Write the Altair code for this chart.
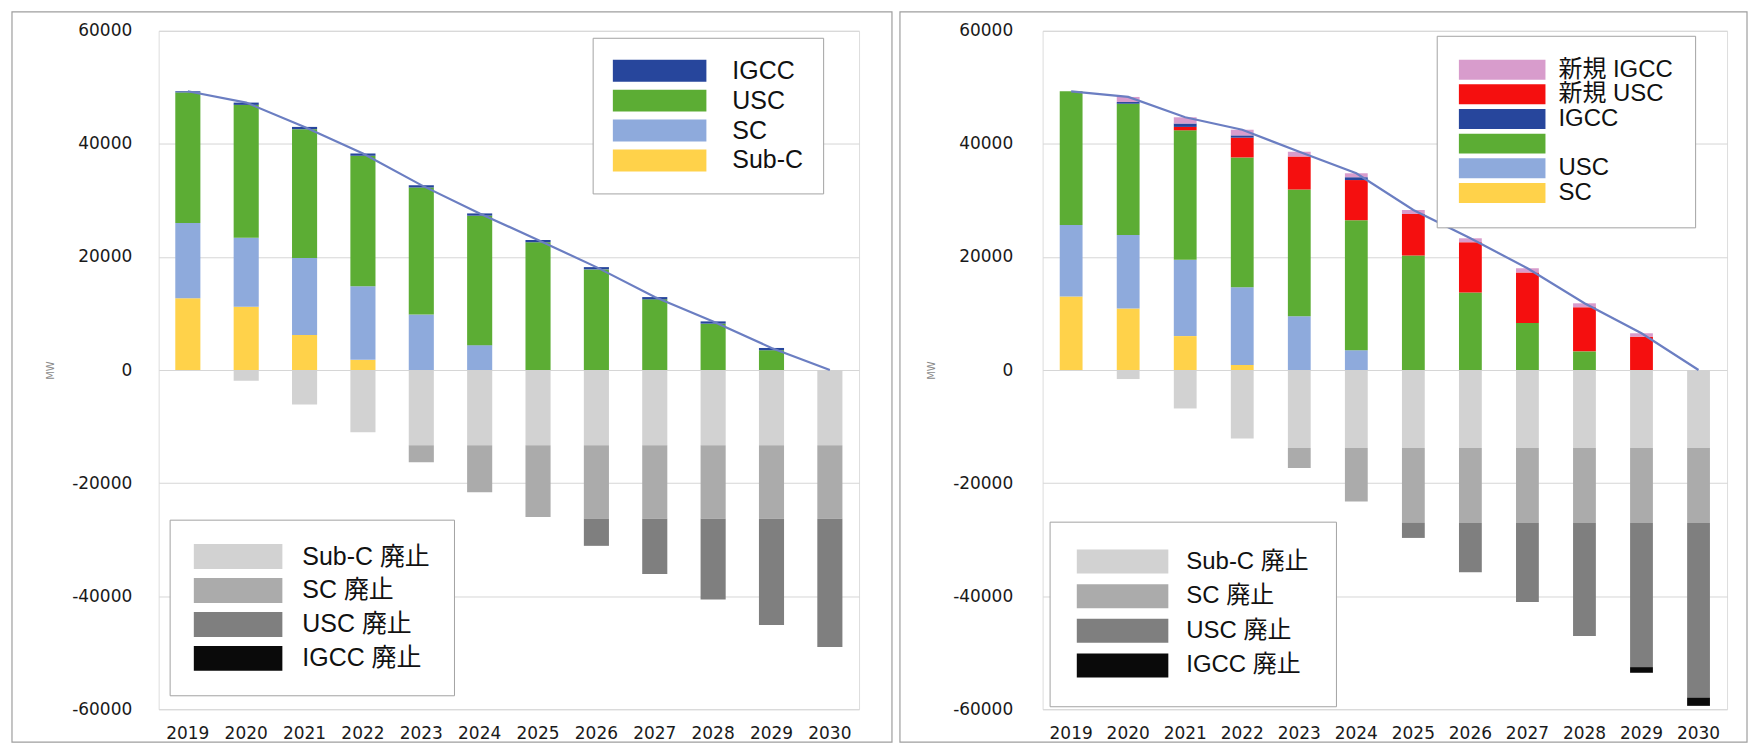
import altair as alt
import pandas as pd

YEARS = ["2019", "2020", "2021", "2022", "2023", "2024", "2025", "2026", "2027", "2028", "2029", "2030"]

# ---- Left chart (existing plants) ----
L_SUBC = [12700, 11200, 6200, 1800, 0, 0, 0, 0, 0, 0, 0, 0]
L_SC = [13300, 12200, 13600, 13000, 9800, 4400, 0, 0, 0, 0, 0, 0]
L_USC = [23100, 23500, 22800, 23100, 22500, 22900, 22600, 17800, 12500, 8200, 3500, 0]
L_IGCC = [200, 400, 400, 400, 400, 400, 400, 400, 400, 400, 400, 0]
L_TOTAL = [49300, 47300, 43000, 38300, 32700, 27700, 23000, 18200, 12900, 8600, 3900, 0]
L_SUBC_RET = [0, -1900, -6100, -11000, -13300, -13300, -13300, -13300, -13300, -13300, -13300, -13300]
L_SC_RET = [0, 0, 0, 0, -3000, -8300, -12700, -13000, -13000, -13000, -13000, -13000]
L_USC_RET = [0, 0, 0, 0, 0, 0, 0, -4800, -9800, -14300, -18800, -22700]
L_IGCC_RET = [0, 0, 0, 0, 0, 0, 0, 0, 0, 0, 0, 0]

# ---- Right chart (with new plants) ----
R_SUBC = [13000, 10900, 6000, 900, 0, 0, 0, 0, 0, 0, 0, 0]
R_SC = [12650, 13000, 13500, 13750, 9500, 3500, 0, 0, 0, 0, 0, 0]
R_USC = [23650, 23200, 22900, 22950, 22450, 23000, 20250, 13700, 8300, 3300, 0, 0]
R_NEW_USC = [0, 0, 600, 3500, 5800, 7100, 7350, 8900, 8950, 7800, 5900, 0]
R_IGCC = [0, 300, 600, 400, 0, 500, 0, 0, 0, 0, 0, 0]
R_NEW_IGCC = [0, 900, 1100, 1000, 850, 700, 700, 700, 750, 700, 600, 0]
R_TOTAL = [49300, 48300, 44700, 42500, 38600, 34800, 28300, 23300, 18000, 11800, 6500, 0]
R_SUBC_RET = [0, -1600, -6800, -12100, -13800, -13800, -13800, -13800, -13800, -13800, -13800, -13800]
R_SC_RET = [0, 0, 0, 0, -3550, -9450, -13250, -13250, -13250, -13250, -13250, -13250]
R_USC_RET = [0, 0, 0, 0, 0, 0, -2650, -8700, -14000, -20000, -25500, -30900]
R_IGCC_RET = [0, 0, 0, 0, 0, 0, 0, 0, 0, 0, -1000, -1450]

# legend text as printed in the reference's right-hand legend (row by row)
R_LEGEND_TEXT = {"新規 IGCC": "新規 IGCC", "新規 USC": "新規 USC", "IGCC": "IGCC",
                 "USC": "", "SC": "USC", "Sub-C": "SC"}

Y_TICKS = [-60000, -40000, -20000, 0, 20000, 40000, 60000]

C_IGCC = "#27469c"
C_USC = "#5cad34"
C_SC = "#8eaadc"
C_SUBC = "#ffd24a"
C_NEW_IGCC = "#d89ccc"
C_NEW_USC = "#f50f0f"
C_SUBC_RET = "#d2d2d2"
C_SC_RET = "#ababab"
C_USC_RET = "#7f7f7f"
C_IGCC_RET = "#0a0a0a"

LEG_FONT = "Liberation Sans, Noto Sans CJK JP"
AX_FONT = "DejaVu Sans"


def long_df(series, orders):
    rows = []
    for (name, vals), o in zip(series, orders):
        for y, v in zip(YEARS, vals):
            rows.append({"year": y, "series": name, "value": v, "ord": o})
    return pd.DataFrame(rows)


def sym(w, h):
    r = h / w
    return f"M-1,-{r:.3f}H1V{r:.3f}H-1Z", w * w


def make_panel(pos_series, pos_order, pos_domain, pos_range, pos_leg,
               neg_series, neg_domain, neg_range, neg_leg,
               total, pad_in, width, frame, lab_pad):
    xenc = alt.X("year:N", sort=YEARS,
                 scale=alt.Scale(domain=YEARS, paddingInner=pad_in, paddingOuter=pad_in / 2),
                 axis=alt.Axis(title=None, labelAngle=0, ticks=False, domain=False, grid=False,
                               labelFont=AX_FONT, labelFontSize=17, labelColor="#1a1a1a",
                               labelPadding=16))
    yaxis = alt.Axis(values=Y_TICKS, labelExpr="'' + datum.value", title="MW", titleFont=AX_FONT,
                     titleFontSize=10, titleFontWeight="normal", titleColor="#8a8a8a", titlePadding=16,
                     labelFont=AX_FONT, labelFontSize=17, labelColor="#1a1a1a",
                     labelPadding=lab_pad, ticks=False, tickSize=0, domain=False,
                     grid=True, gridColor="#d6d6d6", gridWidth=1)
    yscale = alt.Scale(domain=[-60000, 60000], nice=False, zero=False)

    pos_df = long_df(pos_series, pos_order)
    neg_df = long_df(neg_series, list(range(len(neg_series))))
    line_df = pd.DataFrame({"year": YEARS, "value": total})

    def legend(cfg):
        path, size = sym(cfg["w"], cfg["h"])
        kw = dict(orient="none", legendX=cfg["x"], legendY=cfg["y"], title=None,
                  symbolType=path, symbolSize=size, symbolStrokeWidth=0, symbolOpacity=1,
                  labelFont=LEG_FONT, labelFontSize=cfg["fs"], labelColor="#111111",
                  labelOffset=cfg["lo"], rowPadding=cfg["rp"], padding=cfg["pad"],
                  clipHeight=cfg["ch"],
                  fillColor="white", strokeColor="#a3a3a3", labelLimit=300)
        if "expr" in cfg:
            kw["labelExpr"] = cfg["expr"]
        return alt.Legend(**kw)

    pos = alt.Chart(pos_df).mark_bar().encode(
        x=xenc,
        y=alt.Y("value:Q", scale=yscale, axis=yaxis, stack="zero"),
        color=alt.Color("series:N", scale=alt.Scale(domain=pos_domain, range=pos_range),
                        legend=legend(pos_leg)),
        order=alt.Order("ord:Q", sort="ascending"),
    )
    neg = alt.Chart(neg_df).mark_bar().encode(
        x=xenc,
        y=alt.Y("value:Q", scale=yscale, axis=yaxis, stack="zero"),
        color=alt.Color("series:N", scale=alt.Scale(domain=neg_domain, range=neg_range),
                        legend=legend(neg_leg)),
        order=alt.Order("ord:Q", sort="ascending"),
    )
    line = alt.Chart(line_df).mark_line(color="#6b7ec2", strokeWidth=2.2).encode(
        x=xenc, y=alt.Y("value:Q", scale=yscale, axis=yaxis))
    box = alt.Chart(pd.DataFrame({"f": [0]})).mark_rect(
        fill="white", fillOpacity=0, stroke="#9e9e9e", strokeWidth=1.2).encode(
        x=alt.value(frame[0]), x2=alt.value(frame[1]),
        y=alt.value(frame[2]), y2=alt.value(frame[3]))

    return alt.layer(box, pos, neg, line).resolve_scale(color="independent").properties(
        width=width, height=680)


r_expr = " : ".join(f"datum.label == '{k}' ? '{v}'" for k, v in R_LEGEND_TEXT.items()) + " : datum.label"

left = make_panel(
    [("Sub-C", L_SUBC), ("SC", L_SC), ("USC", L_USC), ("IGCC", L_IGCC)], [0, 1, 2, 3],
    ["IGCC", "USC", "SC", "Sub-C"], [C_IGCC, C_USC, C_SC, C_SUBC],
    dict(x=435, y=7, w=94, h=22, fs=25, lo=26, rp=4, pad=20, ch=26),
    [("Sub-C 廃止", L_SUBC_RET), ("SC 廃止", L_SC_RET), ("USC 廃止", L_USC_RET), ("IGCC 廃止", L_IGCC_RET)],
    ["Sub-C 廃止", "SC 廃止", "USC 廃止", "IGCC 廃止"], [C_SUBC_RET, C_SC_RET, C_USC_RET, C_IGCC_RET],
    dict(x=11, y=490, w=89, h=25, fs=25, lo=20, rp=8, pad=24, ch=26),
    L_TOTAL, 0.57, 702, (-147, 735, -19, 713), 27)

right = make_panel(
    [("Sub-C", R_SUBC), ("SC", R_SC), ("USC", R_USC), ("新規 USC", R_NEW_USC),
     ("IGCC", R_IGCC), ("新規 IGCC", R_NEW_IGCC)], [0, 1, 2, 3, 4, 5],
    ["新規 IGCC", "新規 USC", "IGCC", "USC", "SC", "Sub-C"],
    [C_NEW_IGCC, C_NEW_USC, C_IGCC, C_USC, C_SC, C_SUBC],
    dict(x=395, y=5, w=87, h=20, fs=24, lo=13, rp=0.7, pad=22, ch=24, expr=r_expr),
    [("Sub-C 廃止", R_SUBC_RET), ("SC 廃止", R_SC_RET), ("USC 廃止", R_USC_RET), ("IGCC 廃止", R_IGCC_RET)],
    ["Sub-C 廃止", "SC 廃止", "USC 廃止", "IGCC 廃止"], [C_SUBC_RET, C_SC_RET, C_USC_RET, C_IGCC_RET],
    dict(x=7, y=492, w=92, h=24, fs=24, lo=18, rp=8.7, pad=27, ch=26),
    R_TOTAL, 0.6, 686, (-143, 706, -19, 713), 30)

chart = alt.hconcat(left, right, spacing=4).properties(
    padding={"left": 2, "top": 1, "right": 0, "bottom": 0}
).configure_view(stroke="#3a3a3a", strokeWidth=1.5).configure(background="white")

chart.save("out.html", embed_options={"renderer": "svg", "actions": False})
